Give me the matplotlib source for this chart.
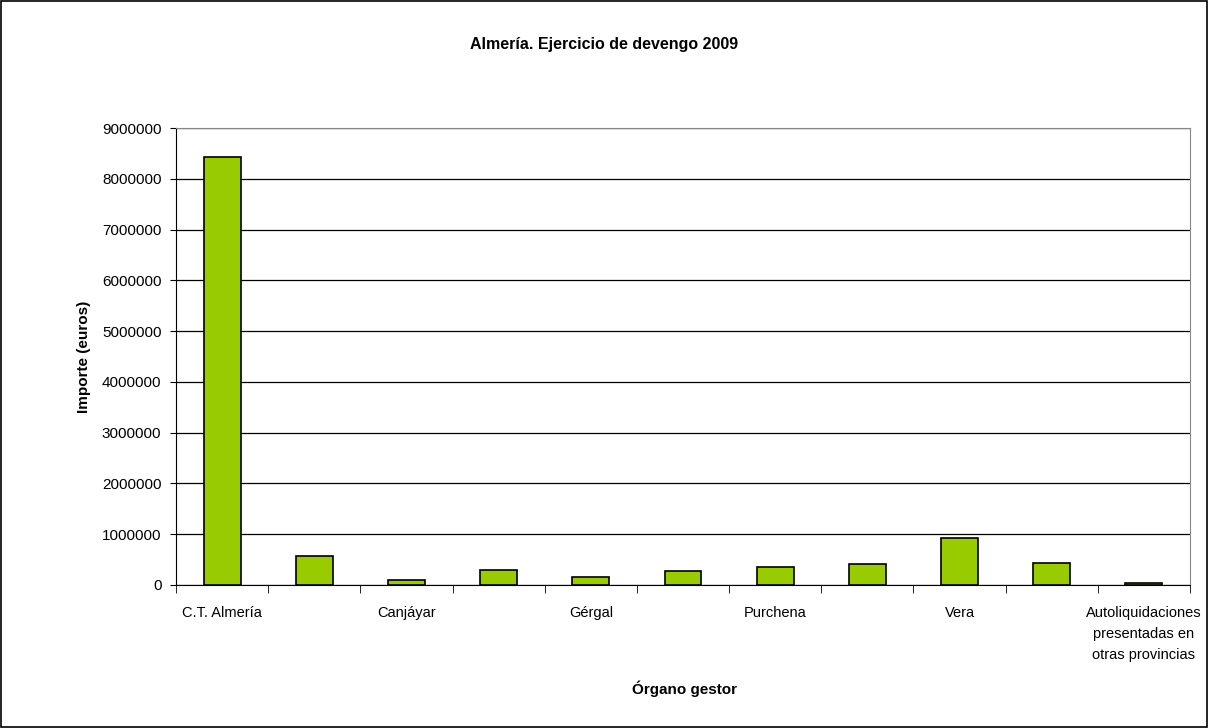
import matplotlib
matplotlib.use("Agg")
import matplotlib.pyplot as plt
from matplotlib.patches import Rectangle
import numpy as np

categories = ["C.T. Almería", "", "Canjáyar", "", "Gérgal", "", "Purchena", "", "Vera", "",
              "Autoliquidaciones\npresentadas en\notras provincias"]
values = [8420000, 580000, 95000, 305000, 160000, 280000, 350000, 410000, 930000, 440000, 45000]
yticks = [0, 1000000, 2000000, 3000000, 4000000, 5000000, 6000000, 7000000, 8000000, 9000000]

title = "Almería. Ejercicio de devengo 2009"
xlabel = "Órgano gestor"
ylabel = "Importe (euros)"

bold_font = ["Liberation Sans", "DejaVu Sans"]
reg_font = ["Liberation Sans", "DejaVu Sans"]

fig = plt.figure(figsize=(12.09, 7.28), dpi=100)
fig.patches.append(Rectangle((0.001, 0.001), 0.997, 0.997, transform=fig.transFigure,
                             fill=False, edgecolor="black", linewidth=1.2))
ax = fig.add_axes([176/1209, 1-585/728, (1190-176)/1209, (585-128)/728])

x = np.arange(len(values))
ax.bar(x, values, width=0.4, color="#99cc00", edgecolor="black", linewidth=1.2, zorder=3)

ax.set_xlim(-0.5, len(values) - 0.5)
ax.set_ylim(0, 9000000)
ax.set_yticks(yticks)
ax.set_yticklabels([str(v) for v in yticks], fontfamily=reg_font, fontsize=11)
ax.yaxis.grid(True, color="black", linewidth=0.9, zorder=0)
ax.set_axisbelow(True)

ax.set_xticks(x)
ax.set_xticklabels(categories, fontfamily=reg_font, fontsize=10.5, linespacing=1.65, va="top")
ax.tick_params(axis="x", which="major", length=0, pad=15)
ax.set_xticks(np.arange(-0.5, len(values)), minor=True)
ax.tick_params(axis="x", which="minor", length=6, direction="out", color="black")
ax.tick_params(axis="y", length=4.5, direction="out", color="black", pad=6)

for s in ["top", "right"]:
    ax.spines[s].set_color("#888888")
for s in ["left", "bottom"]:
    ax.spines[s].set_color("black")

fig.text(604/1209, 1-44/728, title, ha="center", va="center",
         fontfamily=bold_font, fontweight="bold", fontsize=11.5)
fig.text(684/1209, 1-689/728, xlabel, ha="center", va="center",
         fontfamily=bold_font, fontweight="bold", fontsize=11)
fig.text(84/1209, 1-357/728, ylabel, ha="center", va="center", rotation=90,
         fontfamily=bold_font, fontweight="bold", fontsize=11)

fig.savefig("out.png", dpi=100)
